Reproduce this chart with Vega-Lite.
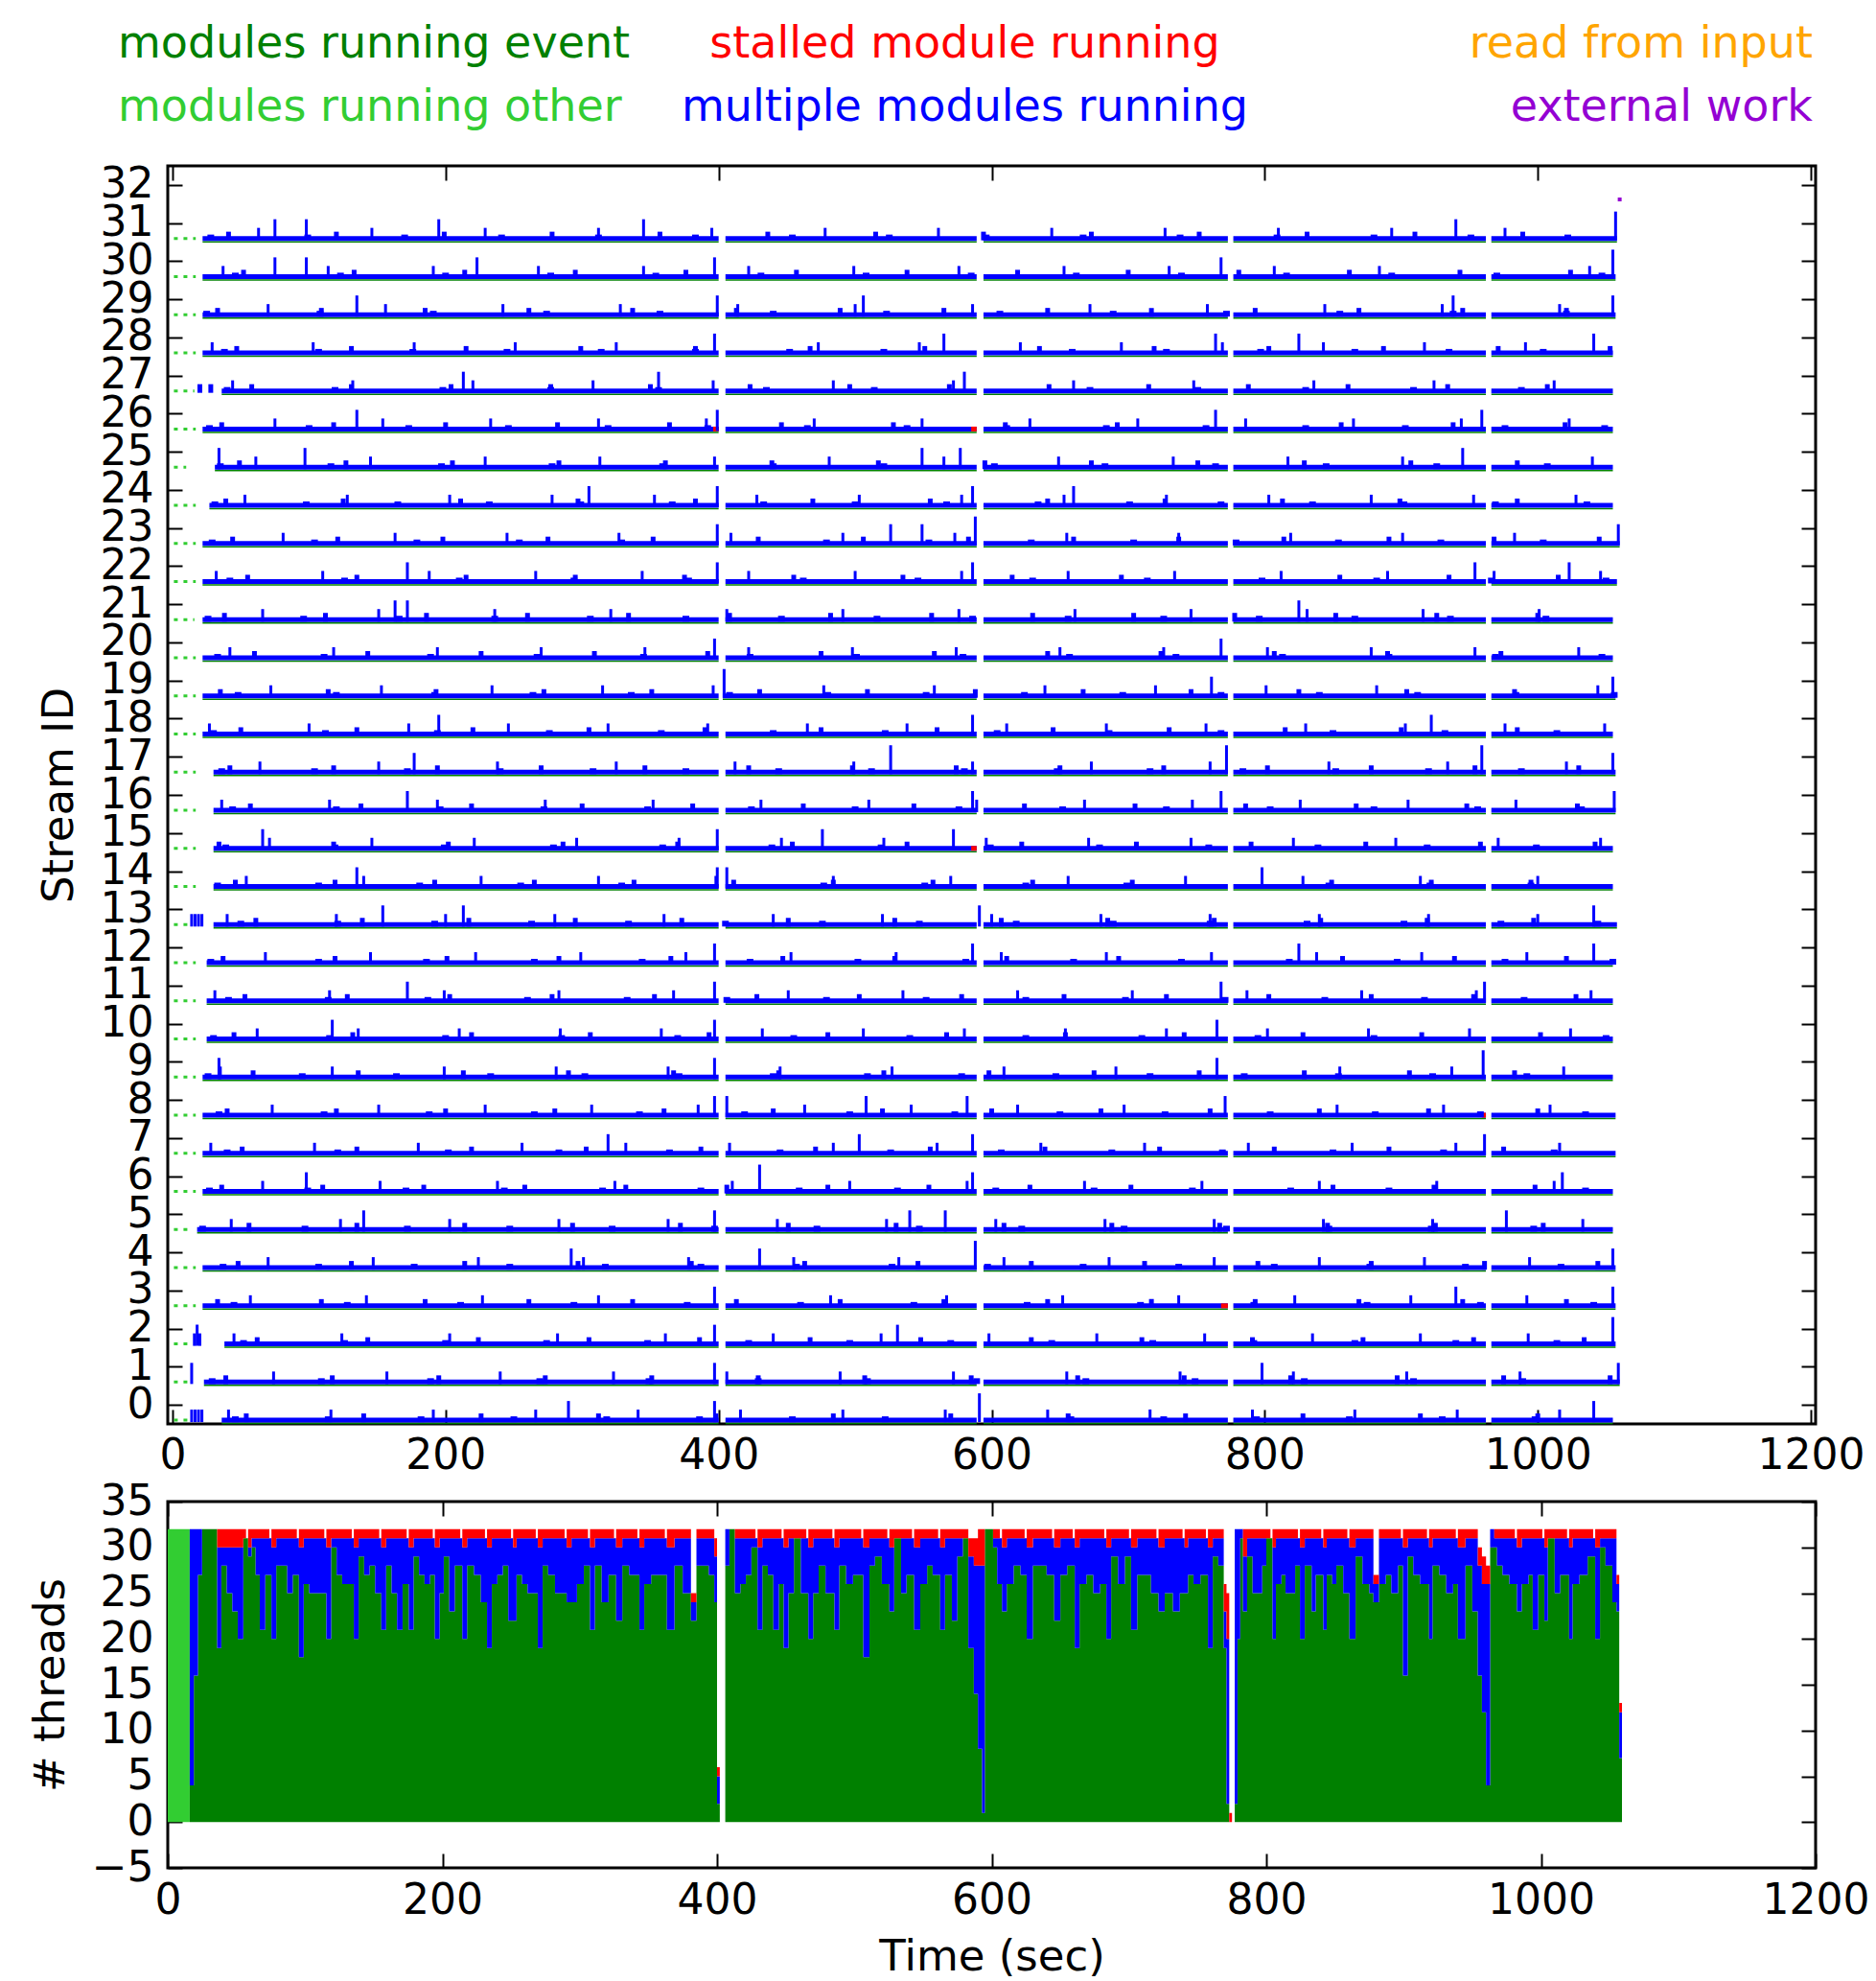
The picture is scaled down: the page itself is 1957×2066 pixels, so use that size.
{
"$schema":"https://vega.github.io/schema/vega-lite/v6.json",
"background":"white",
"padding":{"left":28,"top":23,"right":5,"bottom":0},
"spacing":0,
"config":{"font":"DejaVu Sans","view":{"stroke":"#000000","strokeWidth":3},
"axis":{"labelFont":"DejaVu Sans","labelFontSize":44,"labelColor":"#000000","titleFont":"DejaVu Sans","titleFontSize":45,"titleFontWeight":"normal","titleColor":"#000000","tickColor":"#000000","tickWidth":2,"tickSize":-15,"domain":false,"grid":false,"labelFlush":false,"labelOverlap":false,"labelPadding":30}},
"datasets":{
"legend":[
{"label":"modules running event","col":"L","row":1,"cat":"ev"},
{"label":"stalled module running","col":"C","row":1,"cat":"st"},
{"label":"read from input","col":"R","row":1,"cat":"rd"},
{"label":"modules running other","col":"L","row":2,"cat":"ot"},
{"label":"multiple modules running","col":"C","row":2,"cat":"mu"},
{"label":"external work","col":"R","row":2,"cat":"ex"}],
"lead":[
{"s":31,"a":1,"b":17},{"s":30,"a":1,"b":17},{"s":29,"a":1,"b":17},{"s":28,"a":1,"b":17},{"s":27,"a":1,"b":16},{"s":26,"a":1,"b":17},{"s":25,"a":1,"b":10},{"s":24,"a":1,"b":17},
{"s":23,"a":1,"b":17},{"s":22,"a":1,"b":17},{"s":21,"a":1,"b":16},{"s":20,"a":1,"b":17},{"s":19,"a":1,"b":17},{"s":18,"a":1,"b":17},{"s":17,"a":1,"b":17},{"s":16,"a":1,"b":17},
{"s":15,"a":1,"b":17},{"s":14,"a":1,"b":17},{"s":13,"a":1,"b":12},{"s":12,"a":1,"b":17},{"s":11,"a":1,"b":17},{"s":10,"a":1,"b":17},{"s":9,"a":1,"b":17},{"s":8,"a":1,"b":17},
{"s":7,"a":1,"b":17},{"s":6,"a":1,"b":17},{"s":5,"a":1,"b":15},{"s":4,"a":1,"b":17},{"s":3,"a":1,"b":17},{"s":2,"a":1,"b":15},{"s":1,"a":1,"b":13},{"s":0,"a":1,"b":12}],
"base":[
{"s":31,"a":[22,405,594,777,966],"b":[400,589,773,962,1058]},
{"s":30,"a":[22,405,594,777,966],"b":[400,589,773,962,1057]},
{"s":29,"a":[22,405,594,777,966],"b":[400,589,773,962,1057]},
{"s":28,"a":[22,405,594,777,966],"b":[400,589,773,962,1055]},
{"s":27,"a":[36,405,594,777,966],"b":[400,589,773,962,1055]},
{"s":26,"a":[22,405,594,777,966],"b":[400,589,773,962,1055]},
{"s":25,"a":[31,405,594,777,966],"b":[400,589,773,962,1055]},
{"s":24,"a":[27,405,594,777,966],"b":[400,589,773,962,1055]},
{"s":23,"a":[22,405,594,777,966],"b":[400,589,773,962,1060]},
{"s":22,"a":[22,405,594,777,966],"b":[400,589,773,962,1058]},
{"s":21,"a":[22,405,594,777,966],"b":[400,589,773,962,1055]},
{"s":20,"a":[22,405,594,777,966],"b":[400,589,773,962,1055]},
{"s":19,"a":[22,403,594,777,966],"b":[400,589,773,962,1057]},
{"s":18,"a":[22,405,594,777,966],"b":[400,589,773,962,1055]},
{"s":17,"a":[30,405,594,777,966],"b":[400,589,773,962,1057]},
{"s":16,"a":[30,405,594,777,966],"b":[400,589,773,962,1057]},
{"s":15,"a":[30,405,594,777,966],"b":[400,589,773,962,1055]},
{"s":14,"a":[30,405,594,777,966],"b":[400,589,773,962,1055]},
{"s":13,"a":[30,405,594,777,966],"b":[400,589,773,962,1058]},
{"s":12,"a":[25,405,594,777,966],"b":[400,589,773,962,1055]},
{"s":11,"a":[25,405,594,777,966],"b":[400,589,773,962,1055]},
{"s":10,"a":[25,405,594,777,966],"b":[400,589,773,962,1055]},
{"s":9,"a":[22,405,594,777,966],"b":[400,589,773,962,1055]},
{"s":8,"a":[22,405,594,777,966],"b":[400,589,773,962,1057]},
{"s":7,"a":[22,405,594,777,966],"b":[400,589,773,962,1057]},
{"s":6,"a":[22,405,594,777,966],"b":[400,589,773,962,1055]},
{"s":5,"a":[18,405,594,777,966],"b":[400,589,773,962,1055]},
{"s":4,"a":[22,405,594,777,966],"b":[400,589,773,962,1057]},
{"s":3,"a":[22,405,594,777,966],"b":[400,589,773,962,1057]},
{"s":2,"a":[38,405,594,777,966],"b":[400,589,773,962,1057]},
{"s":1,"a":[23,405,594,777,966],"b":[400,589,773,962,1060]},
{"s":0,"a":[36,405,594,777,966],"b":[400,589,773,962,1055]}],
"red":[{"s":26,"a":396,"b":400},{"s":26,"a":585,"b":589},{"s":3,"a":768,"b":773},{"s":15,"a":585,"b":589},{"s":8,"a":959,"b":962}],
"spikes":[
{"s":31,"B":[28,99,170,241,312,383,454,525,596,667,738,809,880,951,1022],"S":[41,120,199,278,357,436,515,594,673,752,831,910,989],"M":[63,146,229,312,395,478,561,644,727,810,893,976],"T":[75,98,195,345,940],"H":[1057]},
{"s":30,"B":[46,123,200,277,354,431,508,585,662,739,816,893,970,1047],"S":[52,133,214,295,376,457,538,619,700,781,862,943,1024],"M":[37,114,191,268,345,422,499,576,653,730,807,884,1038],"T":[75,98,223,397,768],"H":[1055]},
{"s":29,"B":[25,108,191,274,357,440,523,606,689,772,855,938,1021],"S":[33,109,185,261,337,413,489,565,641,717,793,869,945,1021],"M":[70,156,242,328,414,500,586,672,758,844,930,1016],"T":[135,399,506,938,1055],"H":[]},
{"s":28,"B":[38,107,176,245,314,383,452,521,659,728,797,866,935,1004],"S":[47,131,215,299,383,467,551,635,719,803,887,971,1053],"M":[29,103,177,251,325,473,547,621,695,769,843,917,991],"T":[397,565,764,825,1041],"H":[]},
{"s":27,"B":[40,119,198,277,356,435,514,672,751,830,909,988],"S":[20,28,58,131,204,277,350,423,496,569,642,715,788,861,934,1007],"M":[44,132,220,308,396,484,572,660,748,836,924,1012],"T":[213,356,580],"H":[]},
{"s":26,"B":[27,100,173,246,319,392,465,538,611,684,757,830,903,976,1049],"S":[36,118,200,282,364,446,528,610,692,856,938,1020],"M":[75,154,233,312,391,470,549,628,707,786,865,944,1023],"T":[135,399,764,959],"H":[]},
{"s":25,"B":[35,116,197,278,359,440,521,602,683,764,845,926,1007],"S":[49,127,205,283,361,439,517,595,673,751,829,907,985],"M":[61,145,229,313,397,481,565,649,733,817,901,1040],"T":[34,97,549,577,945],"H":[]},
{"s":24,"B":[31,98,165,232,299,366,433,500,567,634,701,768,835,902,969,1036],"S":[39,125,211,297,383,469,555,641,727,813,899,985],"M":[53,128,203,278,353,428,503,578,653,728,803,878,953,1028],"T":[305,399,586,660],"H":[]},
{"s":23,"B":[29,104,179,254,329,479,554,629,704,779,854,929,1004],"S":[44,121,198,275,352,429,506,583,660,737,814,891,968,1045],"M":[81,163,245,327,409,491,573,655,737,819,901,983],"T":[399,526,549,1059],"H":[588]},
{"s":22,"B":[42,126,210,294,378,462,546,630,714,798,882,966,1050],"S":[55,135,215,295,375,455,535,615,695,855,935,1015],"M":[32,110,188,266,344,422,500,578,656,734,812,890,968,1046],"T":[172,399,586,954,1023],"H":[]},
{"s":21,"B":[26,96,166,236,306,376,446,516,586,656,726,796,866,936,1006],"S":[38,112,186,260,334,408,482,556,630,704,778,852,926,1000],"M":[66,151,236,321,406,491,576,661,746,831,916,1001],"T":[163,172,825],"H":[]},
{"s":20,"B":[33,111,189,267,345,423,501,579,657,735,813,891,969,1047],"S":[60,143,226,309,392,475,558,641,724,807,890,973],"M":[42,118,194,270,346,422,498,574,650,726,802,878,954,1030],"T":[397,768],"H":[]},
{"s":19,"B":[48,120,192,264,336,408,480,552,624,696,768,840,912,984,1056],"S":[35,114,193,272,351,430,509,588,667,746,825,904,983],"M":[72,153,234,315,396,477,558,639,720,801,882,1044],"T":[761,1055],"H":[404]},
{"s":18,"B":[30,112,194,276,358,440,522,604,686,768,850,932,1014],"S":[50,135,220,305,390,475,560,645,730,815,900,985],"M":[27,100,173,246,319,392,465,538,611,684,757,830,903,976,1049],"T":[195,586,922],"H":[]},
{"s":17,"B":[36,104,172,240,308,376,444,512,580,648,716,784,852,920,988],"S":[42,118,194,270,346,422,498,574,650,726,802,878,954,1030],"M":[64,151,238,325,412,499,586,673,760,847,934,1021],"T":[177,1055],"H":[526,772,959]},
{"s":16,"B":[44,120,196,272,348,424,500,576,652,728,804,880,956,1032],"S":[57,138,219,300,381,462,543,624,705,786,867,948,1029],"M":[36,115,194,273,352,431,510,589,668,747,826,905,984],"T":[172,586,768,1056],"H":[]},
{"s":15,"B":[39,119,199,279,359,439,519,599,679,759,839,919,999],"S":[34,118,202,286,370,454,538,622,706,790,874,958,1042],"M":[71,146,221,296,371,446,521,596,671,746,821,896,971,1046],"T":[66,399,476,572],"H":[]},
{"s":14,"B":[33,107,181,255,329,477,551,625,699,847,921,995],"S":[46,119,192,265,338,411,484,557,630,703,849,922,995],"M":[54,140,226,312,398,484,570,656,742,828,914,1000],"T":[135,399,406,798],"H":[]},
{"s":13,"B":[50,121,192,263,334,405,476,547,618,689,760,831,902,973,1044],"S":[61,139,217,295,373,451,529,607,685,763,841,919,997],"M":[14,16.5,19,21.5,40,120,200,280,360,440,520,600,680,760,840,920,1000],"T":[154,213,591,1041],"H":[]},
{"s":12,"B":[28,107,186,265,344,423,502,581,660,739,818,897,976,1055],"S":[37,119,201,283,365,447,529,611,693,857,939,1021],"M":[68,145,222,299,376,453,530,607,684,761,838,915,992],"T":[397,586,825,1041],"H":[]},
{"s":11,"B":[41,114,187,260,333,406,479,552,625,698,771,844,917,990],"S":[53,128,203,278,353,428,503,578,653,728,803,878,953,1028],"M":[31,115,199,283,367,451,535,619,703,787,871,955,1039],"T":[172,397,768,961],"H":[]},
{"s":10,"B":[30,115,200,285,370,455,540,625,710,795,880,1050],"S":[45,132,219,306,393,480,567,654,741,828,915,1002],"M":[62,136,210,284,358,432,506,580,654,728,802,876,950,1024],"T":[117,397,765],"H":[]},
{"s":9,"B":[26,95,164,233,302,371,440,509,578,647,716,785,854,923,992],"S":[59,136,213,290,367,444,521,598,675,752,829,906,983],"M":[35,117,199,281,363,445,527,609,691,855,937,1019],"T":[34,397,765],"H":[960]},
{"s":8,"B":[34,111,188,265,342,419,496,573,650,727,804,881,958,1035],"S":[40,120,200,280,360,440,520,600,680,760,840,920,1000],"M":[73,151,229,307,385,463,541,619,697,853,931,1009],"T":[397,406,508,582,771],"H":[]},
{"s":7,"B":[40,121,202,283,364,445,526,607,688,769,850,931,1012],"S":[51,135,219,303,387,471,555,639,723,807,891,975],"M":[28,104,180,256,332,408,484,560,636,712,788,864,940,1016],"T":[319,503,586,961],"H":[]},
{"s":6,"B":[27,99,171,243,315,387,459,531,603,675,747,819,891,1035],"S":[36,110,184,258,332,406,480,554,628,702,850,924,998],"M":[66,152,238,324,410,496,582,668,754,840,926,1012],"T":[98,586,1018],"H":[430]},
{"s":5,"B":[22,97,172,247,322,397,472,547,622,697,772,847,922,997],"S":[56,135,214,293,372,451,530,609,688,767,846,925,1004],"M":[43,123,203,283,363,443,523,603,683,763,843,923,1033],"T":[140,397,540,566,977],"H":[]},
{"s":4,"B":[37,107,177,247,317,387,457,527,597,667,737,807,877,947,1017],"S":[48,131,214,297,380,463,546,629,712,795,878,961,1044],"M":[70,147,224,301,378,455,532,609,686,763,840,917,994],"T":[292,430,1055],"H":[588]},
{"s":3,"B":[45,128,211,294,377,460,543,626,709,792,875,958,1041],"S":[33,109,185,261,337,413,489,565,641,717,793,869,945,1021],"M":[57,142,227,312,482,567,652,737,822,907,992],"T":[397,940,1055],"H":[]},
{"s":2,"B":[52,126,200,274,348,422,496,570,644,718,792,866,940,1014],"S":[62,143,224,305,386,467,548,629,710,791,872,953,1034],"M":[16,20,45,124,203,282,361,440,519,598,677,756,835,914,993],"T":[18,397,531],"H":[1055]},
{"s":1,"B":[29,109,189,269,349,429,509,589,669,749,829,909,989],"S":[39,117,195,273,351,429,507,585,663,741,819,897,975,1053],"M":[74,157,240,323,406,489,572,655,738,821,904,987],"T":[14,397,798,1059],"H":[]},
{"s":0,"B":[46,114,182,250,318,386,454,522,658,726,794,862,930,998],"S":[54,140,226,312,398,484,570,656,742,828,914,1000],"M":[14,16.5,19,21.5,41,116,191,266,341,416,491,566,641,716,791,866,941,1016],"T":[290,397,1041],"H":[591]}],
"extwork":[{"t":1060,"y":31.62}],
"other":[{"a":0,"b":16,"lo":0,"hi":32}],
"threads":[
{"t":0,"ev":0,"mu":0,"st":0},{"t":16,"ev":4,"mu":28,"st":0},{"t":19,"ev":16,"mu":16,"st":0},{"t":22,"ev":27,"mu":5,"st":0},{"t":25,"ev":32,"mu":0,"st":0},
{"t":36,"ev":19,"mu":11,"st":2},{"t":39,"ev":28,"mu":2,"st":2},{"t":43,"ev":25,"mu":5,"st":2},{"t":47,"ev":23,"mu":7,"st":2},{"t":51,"ev":20,"mu":10,"st":2},
{"t":55,"ev":31,"mu":0,"st":1},{"t":57,"ev":31,"mu":0,"st":0},{"t":58.5,"ev":29,"mu":1,"st":2},{"t":61,"ev":30,"mu":1,"st":1},{"t":64,"ev":27,"mu":4,"st":1},
{"t":67,"ev":21,"mu":10,"st":1},{"t":71,"ev":27,"mu":4,"st":1},{"t":74,"ev":27,"mu":4,"st":0},{"t":75.5,"ev":20,"mu":10,"st":2},{"t":79,"ev":28,"mu":3,"st":1},
{"t":83,"ev":28,"mu":3,"st":1},{"t":87,"ev":25,"mu":6,"st":1},{"t":91,"ev":27,"mu":4,"st":1},{"t":94,"ev":27,"mu":4,"st":0},{"t":95.5,"ev":18,"mu":12,"st":2},
{"t":99,"ev":26,"mu":5,"st":1},{"t":103,"ev":25,"mu":6,"st":1},{"t":107,"ev":25,"mu":6,"st":1},{"t":111,"ev":25,"mu":6,"st":1},{"t":114,"ev":25,"mu":6,"st":0},
{"t":115.5,"ev":20,"mu":10,"st":2},{"t":119,"ev":30,"mu":1,"st":1},{"t":123,"ev":27,"mu":4,"st":1},{"t":127,"ev":26,"mu":5,"st":1},{"t":131,"ev":26,"mu":5,"st":1},
{"t":134,"ev":26,"mu":5,"st":0},{"t":135.5,"ev":20,"mu":10,"st":2},{"t":139,"ev":29,"mu":2,"st":1},{"t":143,"ev":27,"mu":4,"st":1},{"t":147,"ev":28,"mu":3,"st":1},
{"t":151,"ev":25,"mu":6,"st":1},{"t":154,"ev":25,"mu":6,"st":0},{"t":155.5,"ev":21,"mu":9,"st":2},{"t":159,"ev":28,"mu":3,"st":1},{"t":163,"ev":25,"mu":6,"st":1},
{"t":167,"ev":21,"mu":10,"st":1},{"t":171,"ev":26,"mu":5,"st":1},{"t":174,"ev":26,"mu":5,"st":0},{"t":175.5,"ev":21,"mu":9,"st":2},{"t":179,"ev":29,"mu":2,"st":1},
{"t":183,"ev":27,"mu":4,"st":1},{"t":187,"ev":26,"mu":5,"st":1},{"t":191,"ev":27,"mu":4,"st":1},{"t":193,"ev":27,"mu":4,"st":0},{"t":194.5,"ev":20,"mu":10,"st":2},
{"t":198,"ev":25,"mu":6,"st":1},{"t":201,"ev":29,"mu":2,"st":1},{"t":205,"ev":23,"mu":8,"st":1},{"t":209,"ev":28,"mu":3,"st":1},{"t":213,"ev":28,"mu":3,"st":0},
{"t":214.5,"ev":20,"mu":10,"st":2},{"t":218,"ev":28,"mu":3,"st":1},{"t":223,"ev":27,"mu":4,"st":1},{"t":228,"ev":24,"mu":7,"st":1},{"t":231,"ev":24,"mu":7,"st":0},
{"t":232.5,"ev":19,"mu":11,"st":2},{"t":236,"ev":26,"mu":5,"st":1},{"t":240,"ev":27,"mu":4,"st":1},{"t":244,"ev":28,"mu":3,"st":1},{"t":248,"ev":22,"mu":9,"st":1},
{"t":250,"ev":22,"mu":9,"st":0},{"t":251.5,"ev":22,"mu":8,"st":2},{"t":254,"ev":27,"mu":4,"st":1},{"t":258,"ev":26,"mu":5,"st":1},{"t":262,"ev":25,"mu":6,"st":1},
{"t":265,"ev":25,"mu":6,"st":1},{"t":268,"ev":25,"mu":6,"st":0},{"t":269.5,"ev":19,"mu":11,"st":2},{"t":273,"ev":28,"mu":3,"st":1},{"t":277,"ev":27,"mu":4,"st":1},
{"t":282,"ev":25,"mu":6,"st":1},{"t":287,"ev":25,"mu":6,"st":1},{"t":289,"ev":25,"mu":6,"st":0},{"t":290.5,"ev":24,"mu":6,"st":2},{"t":294,"ev":24,"mu":7,"st":1},
{"t":298,"ev":26,"mu":5,"st":1},{"t":303,"ev":28,"mu":3,"st":1},{"t":306,"ev":28,"mu":3,"st":0},{"t":307.5,"ev":21,"mu":9,"st":2},{"t":311,"ev":28,"mu":3,"st":1},
{"t":316,"ev":24,"mu":7,"st":1},{"t":321,"ev":27,"mu":4,"st":1},{"t":325,"ev":27,"mu":4,"st":0},{"t":326.5,"ev":22,"mu":8,"st":2},{"t":331,"ev":28,"mu":3,"st":1},
{"t":336,"ev":27,"mu":4,"st":1},{"t":342,"ev":27,"mu":4,"st":0},{"t":343.5,"ev":21,"mu":9,"st":2},{"t":347,"ev":26,"mu":5,"st":1},{"t":352,"ev":27,"mu":4,"st":1},
{"t":357,"ev":27,"mu":4,"st":1},{"t":362,"ev":27,"mu":4,"st":0},{"t":363.5,"ev":21,"mu":9,"st":2},{"t":369,"ev":28,"mu":3,"st":1},{"t":375,"ev":25,"mu":6,"st":1},
{"t":381,"ev":22,"mu":2,"st":1},{"t":385,"ev":28,"mu":3,"st":1},{"t":389,"ev":28,"mu":3,"st":1},{"t":394,"ev":27,"mu":4,"st":1},{"t":398,"ev":24,"mu":5,"st":2},
{"t":400,"ev":2,"mu":3,"st":1},{"t":402,"ev":0,"mu":0,"st":0},{"t":406,"ev":28,"mu":4,"st":0},{"t":409,"ev":32,"mu":0,"st":0},{"t":413,"ev":25,"mu":6,"st":1},
{"t":417,"ev":26,"mu":5,"st":1},{"t":421,"ev":27,"mu":4,"st":1},{"t":425,"ev":30,"mu":1,"st":1},{"t":428,"ev":30,"mu":1,"st":0},{"t":429.5,"ev":21,"mu":9,"st":2},
{"t":433,"ev":28,"mu":3,"st":1},{"t":437,"ev":27,"mu":4,"st":1},{"t":441,"ev":21,"mu":10,"st":1},{"t":445,"ev":26,"mu":5,"st":1},{"t":447,"ev":26,"mu":5,"st":0},
{"t":448.5,"ev":19,"mu":11,"st":2},{"t":452,"ev":25,"mu":6,"st":1},{"t":456,"ev":31,"mu":0,"st":1},{"t":461,"ev":25,"mu":6,"st":1},{"t":465,"ev":25,"mu":6,"st":0},
{"t":466.5,"ev":20,"mu":10,"st":2},{"t":470,"ev":25,"mu":6,"st":1},{"t":474,"ev":28,"mu":3,"st":1},{"t":479,"ev":25,"mu":6,"st":1},{"t":484,"ev":25,"mu":6,"st":0},
{"t":485.5,"ev":21,"mu":9,"st":2},{"t":489,"ev":28,"mu":3,"st":1},{"t":494,"ev":26,"mu":5,"st":1},{"t":499,"ev":27,"mu":4,"st":1},{"t":503,"ev":27,"mu":4,"st":1},
{"t":505,"ev":27,"mu":4,"st":0},{"t":506.5,"ev":18,"mu":12,"st":2},{"t":511,"ev":28,"mu":3,"st":1},{"t":515,"ev":29,"mu":2,"st":1},{"t":520,"ev":26,"mu":5,"st":1},
{"t":524,"ev":26,"mu":5,"st":0},{"t":525.5,"ev":23,"mu":7,"st":2},{"t":529,"ev":31,"mu":0,"st":1},{"t":534,"ev":25,"mu":6,"st":1},{"t":538,"ev":27,"mu":4,"st":1},
{"t":542,"ev":27,"mu":4,"st":0},{"t":543.5,"ev":21,"mu":9,"st":2},{"t":548,"ev":26,"mu":5,"st":1},{"t":553,"ev":28,"mu":3,"st":1},{"t":557,"ev":27,"mu":4,"st":1},
{"t":561,"ev":27,"mu":4,"st":0},{"t":562.5,"ev":21,"mu":9,"st":2},{"t":566,"ev":27,"mu":4,"st":1},{"t":571,"ev":22,"mu":9,"st":1},{"t":575,"ev":29,"mu":2,"st":1},
{"t":579,"ev":31,"mu":0,"st":1},{"t":583,"ev":19,"mu":10,"st":2},{"t":587,"ev":14,"mu":14,"st":3},{"t":590,"ev":8,"mu":20,"st":4},{"t":593,"ev":1,"mu":27,"st":4},
{"t":595,"ev":32,"mu":0,"st":0},{"t":601,"ev":30,"mu":1,"st":1},{"t":604,"ev":26,"mu":5,"st":1},{"t":606,"ev":26,"mu":5,"st":0},{"t":607.5,"ev":23,"mu":7,"st":2},
{"t":611,"ev":26,"mu":5,"st":1},{"t":616,"ev":28,"mu":3,"st":1},{"t":621,"ev":27,"mu":4,"st":1},{"t":624,"ev":27,"mu":4,"st":0},{"t":625.5,"ev":20,"mu":10,"st":2},
{"t":630,"ev":28,"mu":3,"st":1},{"t":635,"ev":28,"mu":3,"st":1},{"t":640,"ev":27,"mu":4,"st":1},{"t":644,"ev":27,"mu":4,"st":0},{"t":645.5,"ev":22,"mu":8,"st":2},
{"t":650,"ev":27,"mu":4,"st":1},{"t":655,"ev":28,"mu":3,"st":1},{"t":659,"ev":28,"mu":3,"st":0},{"t":660.5,"ev":19,"mu":11,"st":2},{"t":664,"ev":26,"mu":5,"st":1},
{"t":669,"ev":27,"mu":4,"st":1},{"t":674,"ev":25,"mu":6,"st":1},{"t":679,"ev":26,"mu":5,"st":1},{"t":682,"ev":26,"mu":5,"st":0},{"t":683.5,"ev":20,"mu":10,"st":2},
{"t":687,"ev":29,"mu":2,"st":1},{"t":692,"ev":26,"mu":5,"st":1},{"t":697,"ev":29,"mu":2,"st":1},{"t":700,"ev":29,"mu":2,"st":0},{"t":701.5,"ev":21,"mu":9,"st":2},
{"t":706,"ev":27,"mu":4,"st":1},{"t":711,"ev":27,"mu":4,"st":1},{"t":716,"ev":25,"mu":6,"st":1},{"t":720,"ev":25,"mu":6,"st":0},{"t":721.5,"ev":23,"mu":7,"st":2},
{"t":726,"ev":25,"mu":6,"st":1},{"t":732,"ev":23,"mu":8,"st":1},{"t":737,"ev":25,"mu":6,"st":1},{"t":739,"ev":25,"mu":6,"st":0},{"t":740.5,"ev":25,"mu":5,"st":2},
{"t":743,"ev":27,"mu":4,"st":1},{"t":747,"ev":26,"mu":5,"st":1},{"t":752,"ev":27,"mu":4,"st":1},{"t":756,"ev":27,"mu":4,"st":0},{"t":757.5,"ev":19,"mu":11,"st":2},
{"t":761,"ev":29,"mu":2,"st":1},{"t":765,"ev":28,"mu":3,"st":1},{"t":769,"ev":19,"mu":4,"st":3},{"t":771,"ev":2,"mu":18,"st":5},{"t":773,"ev":0,"mu":0,"st":1},
{"t":775,"ev":0,"mu":0,"st":0},{"t":777,"ev":2,"mu":30,"st":0},{"t":779,"ev":20,"mu":12,"st":0},{"t":781,"ev":31,"mu":1,"st":0},{"t":783,"ev":23,"mu":6,"st":3},
{"t":786,"ev":29,"mu":2,"st":1},{"t":790,"ev":25,"mu":6,"st":1},{"t":794,"ev":25,"mu":6,"st":1},{"t":797,"ev":28,"mu":3,"st":1},{"t":800,"ev":31,"mu":0,"st":1},
{"t":803,"ev":31,"mu":0,"st":0},{"t":804.5,"ev":20,"mu":10,"st":2},{"t":807,"ev":26,"mu":5,"st":1},{"t":811,"ev":27,"mu":4,"st":1},{"t":814,"ev":25,"mu":6,"st":1},
{"t":818,"ev":25,"mu":6,"st":1},{"t":821,"ev":28,"mu":3,"st":1},{"t":823,"ev":28,"mu":3,"st":0},{"t":824.5,"ev":20,"mu":10,"st":2},{"t":828,"ev":28,"mu":3,"st":1},
{"t":833,"ev":23,"mu":8,"st":1},{"t":836,"ev":27,"mu":4,"st":1},{"t":840,"ev":27,"mu":4,"st":0},{"t":841.5,"ev":21,"mu":9,"st":2},{"t":844,"ev":27,"mu":4,"st":1},
{"t":848,"ev":26,"mu":5,"st":1},{"t":851,"ev":28,"mu":3,"st":1},{"t":856,"ev":25,"mu":6,"st":1},{"t":859,"ev":25,"mu":6,"st":0},{"t":860.5,"ev":20,"mu":10,"st":2},
{"t":865,"ev":29,"mu":2,"st":1},{"t":870,"ev":26,"mu":5,"st":1},{"t":875,"ev":25,"mu":6,"st":1},{"t":878,"ev":24,"mu":2,"st":1},{"t":882,"ev":26,"mu":5,"st":1},
{"t":887,"ev":27,"mu":4,"st":1},{"t":891,"ev":25,"mu":6,"st":1},{"t":896,"ev":28,"mu":3,"st":1},{"t":898,"ev":28,"mu":3,"st":0},{"t":899.5,"ev":16,"mu":14,"st":2},
{"t":903,"ev":29,"mu":2,"st":1},{"t":907,"ev":27,"mu":4,"st":1},{"t":912,"ev":26,"mu":5,"st":1},{"t":917,"ev":26,"mu":5,"st":0},{"t":918.5,"ev":20,"mu":10,"st":2},
{"t":921,"ev":28,"mu":3,"st":1},{"t":926,"ev":27,"mu":4,"st":1},{"t":931,"ev":25,"mu":6,"st":1},{"t":936,"ev":26,"mu":5,"st":1},{"t":938,"ev":26,"mu":5,"st":0},
{"t":939.5,"ev":20,"mu":10,"st":2},{"t":945,"ev":28,"mu":3,"st":1},{"t":950,"ev":23,"mu":8,"st":1},{"t":954,"ev":16,"mu":12,"st":2},{"t":957,"ev":12,"mu":14,"st":3},
{"t":960,"ev":4,"mu":22,"st":2},{"t":963,"ev":30,"mu":2,"st":0},{"t":966,"ev":30,"mu":1,"st":1},{"t":968,"ev":28,"mu":3,"st":1},{"t":972,"ev":27,"mu":4,"st":1},
{"t":977,"ev":26,"mu":5,"st":1},{"t":981,"ev":26,"mu":5,"st":0},{"t":982.5,"ev":23,"mu":7,"st":2},{"t":986,"ev":26,"mu":5,"st":1},{"t":991,"ev":27,"mu":4,"st":1},
{"t":994,"ev":21,"mu":10,"st":1},{"t":998,"ev":27,"mu":4,"st":1},{"t":1001,"ev":27,"mu":4,"st":0},{"t":1002.5,"ev":22,"mu":8,"st":2},{"t":1005,"ev":31,"mu":0,"st":1},
{"t":1010,"ev":25,"mu":6,"st":1},{"t":1014,"ev":27,"mu":4,"st":1},{"t":1019,"ev":27,"mu":4,"st":0},{"t":1020.5,"ev":20,"mu":10,"st":2},{"t":1023,"ev":26,"mu":5,"st":1},
{"t":1028,"ev":27,"mu":4,"st":1},{"t":1034,"ev":29,"mu":2,"st":1},{"t":1038,"ev":29,"mu":2,"st":0},{"t":1039.5,"ev":20,"mu":10,"st":2},{"t":1043,"ev":30,"mu":1,"st":1},
{"t":1047,"ev":28,"mu":3,"st":1},{"t":1052,"ev":24,"mu":7,"st":1},{"t":1055,"ev":23,"mu":3,"st":1},{"t":1057,"ev":7,"mu":5,"st":1},{"t":1059,"ev":0,"mu":0,"st":0}]
},
"vconcat":[
{"width":1719,"height":123,"view":{"stroke":null},"data":{"name":"legend"},
 "encoding":{
  "x":{"field":"col","type":"nominal","scale":{"type":"point","domain":["L","C","R"],"range":[0,1719],"padding":0},"axis":null},
  "y":{"field":"row","type":"ordinal","scale":{"type":"point","domain":[1,2],"range":[0,66],"padding":0},"axis":null},
  "text":{"field":"label"},
  "color":{"field":"cat","type":"nominal","scale":{"domain":["ev","ot","st","mu","rd","ex"],"range":["#008000","#32cd32","#ff0000","#0000ff","#ffa500","#9400d3"]},"legend":null}},
 "layer":[
  {"transform":[{"filter":"datum.col == 'L'"}],"mark":{"type":"text","align":"left","baseline":"middle","fontSize":46,"font":"DejaVu Sans","dx":-52}},
  {"transform":[{"filter":"datum.col == 'C'"}],"mark":{"type":"text","align":"center","baseline":"middle","fontSize":46,"font":"DejaVu Sans","dx":-28}},
  {"transform":[{"filter":"datum.col == 'R'"}],"mark":{"type":"text","align":"right","baseline":"middle","fontSize":46,"font":"DejaVu Sans","dx":-3}}
 ]},
{"width":1719,"height":1312,
 "layer":[
  {"data":{"name":"lead"},"mark":{"type":"rule","color":"#32cd32","strokeWidth":3,"strokeDash":[4,6],"yOffset":16},
   "encoding":{
    "x":{"field":"a","type":"quantitative","scale":{"domain":[0,1200],"nice":false,"zero":false},"axis":{"orient":"bottom","values":[0,200,400,600,800,1000,1200],"format":"d","title":null,"labelFlush":false,"labelPadding":26}},
    "x2":{"field":"b"},
    "y":{"field":"s","type":"quantitative","scale":{"domain":[-0.5,32.5],"nice":false,"zero":false},"axis":{"orient":"left","values":[0,1,2,3,4,5,6,7,8,9,10,11,12,13,14,15,16,17,18,19,20,21,22,23,24,25,26,27,28,29,30,31,32],"format":"d","title":"Stream ID","titlePadding":20,"labelFlush":false,"labelOverlap":false}}}},
  {"data":{"name":"base"},"transform":[{"flatten":["a","b"]}],"mark":{"type":"rule","color":"#008000","strokeWidth":1.5,"yOffset":19.5},
   "encoding":{"x":{"field":"a","type":"quantitative","scale":{"domain":[0,1200],"nice":false,"zero":false},"axis":null},"x2":{"field":"b"},"y":{"field":"s","type":"quantitative","scale":{"domain":[-0.5,32.5],"nice":false,"zero":false},"axis":null}}},
  {"data":{"name":"base"},"transform":[{"flatten":["a","b"]}],"mark":{"type":"rule","color":"#0000ff","strokeWidth":5,"yOffset":16},
   "encoding":{"x":{"field":"a","type":"quantitative","scale":{"domain":[0,1200],"nice":false,"zero":false},"axis":null},"x2":{"field":"b"},"y":{"field":"s","type":"quantitative","scale":{"domain":[-0.5,32.5],"nice":false,"zero":false},"axis":null}}},
  {"data":{"name":"red"},"mark":{"type":"rule","color":"#ff0000","strokeWidth":5,"yOffset":16},
   "encoding":{"x":{"field":"a","type":"quantitative","scale":{"domain":[0,1200],"nice":false,"zero":false},"axis":null},"x2":{"field":"b"},"y":{"field":"s","type":"quantitative","scale":{"domain":[-0.5,32.5],"nice":false,"zero":false},"axis":null}}},
  {"data":{"name":"spikes"},"transform":[{"flatten":["B"],"as":["t"]}],"mark":{"type":"bar","color":"#0000ff","width":7,"yOffset":12,"y2Offset":18},
   "encoding":{"x":{"field":"t","type":"quantitative","scale":{"domain":[0,1200],"nice":false,"zero":false},"axis":null},"y":{"field":"s","type":"quantitative","scale":{"domain":[-0.5,32.5],"nice":false,"zero":false},"axis":null},"y2":{"field":"s"}}},
  {"data":{"name":"spikes"},"transform":[{"flatten":["S"],"as":["t"]}],"mark":{"type":"bar","color":"#0000ff","width":5,"yOffset":9,"y2Offset":18},
   "encoding":{"x":{"field":"t","type":"quantitative","scale":{"domain":[0,1200],"nice":false,"zero":false},"axis":null},"y":{"field":"s","type":"quantitative","scale":{"domain":[-0.5,32.5],"nice":false,"zero":false},"axis":null},"y2":{"field":"s"}}},
  {"data":{"name":"spikes"},"transform":[{"flatten":["M"],"as":["t"]}],"mark":{"type":"bar","color":"#0000ff","width":3,"yOffset":5,"y2Offset":18},
   "encoding":{"x":{"field":"t","type":"quantitative","scale":{"domain":[0,1200],"nice":false,"zero":false},"axis":null},"y":{"field":"s","type":"quantitative","scale":{"domain":[-0.5,32.5],"nice":false,"zero":false},"axis":null},"y2":{"field":"s"}}},
  {"data":{"name":"spikes"},"transform":[{"flatten":["T"],"as":["t"]}],"mark":{"type":"bar","color":"#0000ff","width":3,"yOffset":-4,"y2Offset":18},
   "encoding":{"x":{"field":"t","type":"quantitative","scale":{"domain":[0,1200],"nice":false,"zero":false},"axis":null},"y":{"field":"s","type":"quantitative","scale":{"domain":[-0.5,32.5],"nice":false,"zero":false},"axis":null},"y2":{"field":"s"}}},
  {"data":{"name":"spikes"},"transform":[{"flatten":["H"],"as":["t"]}],"mark":{"type":"bar","color":"#0000ff","width":3,"yOffset":-12,"y2Offset":18},
   "encoding":{"x":{"field":"t","type":"quantitative","scale":{"domain":[0,1200],"nice":false,"zero":false},"axis":null},"y":{"field":"s","type":"quantitative","scale":{"domain":[-0.5,32.5],"nice":false,"zero":false},"axis":null},"y2":{"field":"s"}}},
  {"data":{"name":"extwork"},"mark":{"type":"square","color":"#9400d3","size":16,"opacity":1},
   "encoding":{
    "x":{"field":"t","type":"quantitative","scale":{"domain":[0,1200],"nice":false,"zero":false},"axis":{"orient":"top","values":[0,200,400,600,800,1000,1200],"labels":false,"title":null}},
    "y":{"field":"y","type":"quantitative","scale":{"domain":[-0.5,32.5],"nice":false,"zero":false},"axis":{"orient":"right","values":[0,1,2,3,4,5,6,7,8,9,10,11,12,13,14,15,16,17,18,19,20,21,22,23,24,25,26,27,28,29,30,31,32],"labels":false,"title":null}}}}
 ],
 "resolve":{"axis":{"x":"independent","y":"independent"}}},
{"width":1719,"height":382,
 "layer":[
  {"data":{"name":"other"},"mark":{"type":"rect","color":"#32cd32"},
   "encoding":{
    "x":{"field":"a","type":"quantitative","scale":{"domain":[0,1200],"nice":false,"zero":false},"axis":{"orient":"top","values":[0,200,400,600,800,1000,1200],"labels":false,"title":null}},
    "x2":{"field":"b"},
    "y":{"field":"lo","type":"quantitative","scale":{"domain":[-5,35],"nice":false,"zero":false},"axis":{"orient":"right","values":[-5,0,5,10,15,20,25,30,35],"labels":false,"title":null}},
    "y2":{"field":"hi"}}},
  {"data":{"name":"threads"},"transform":[{"fold":["ev","mu","st"],"as":["k","v"]}],"mark":{"type":"area","interpolate":"step-after","opacity":1},
   "encoding":{
    "x":{"field":"t","type":"quantitative","scale":{"domain":[0,1200],"nice":false,"zero":false},"axis":{"orient":"bottom","values":[0,200,400,600,800,1000,1200],"format":"d","title":"Time (sec)","titlePadding":14,"labelFlush":false,"labelPadding":27}},
    "y":{"field":"v","type":"quantitative","stack":"zero","scale":{"domain":[-5,35],"nice":false,"zero":false},"axis":{"orient":"left","values":[-5,0,5,10,15,20,25,30,35],"format":"d","title":"# threads","titlePadding":20,"labelFlush":false}},
    "color":{"field":"k","type":"nominal","scale":{"domain":["ev","mu","st"],"range":["#008000","#0000ff","#ff0000"]},"legend":null},
    "order":{"field":"k","sort":"ascending"}}}
 ],
 "resolve":{"axis":{"x":"independent","y":"independent"}}}
]
}
